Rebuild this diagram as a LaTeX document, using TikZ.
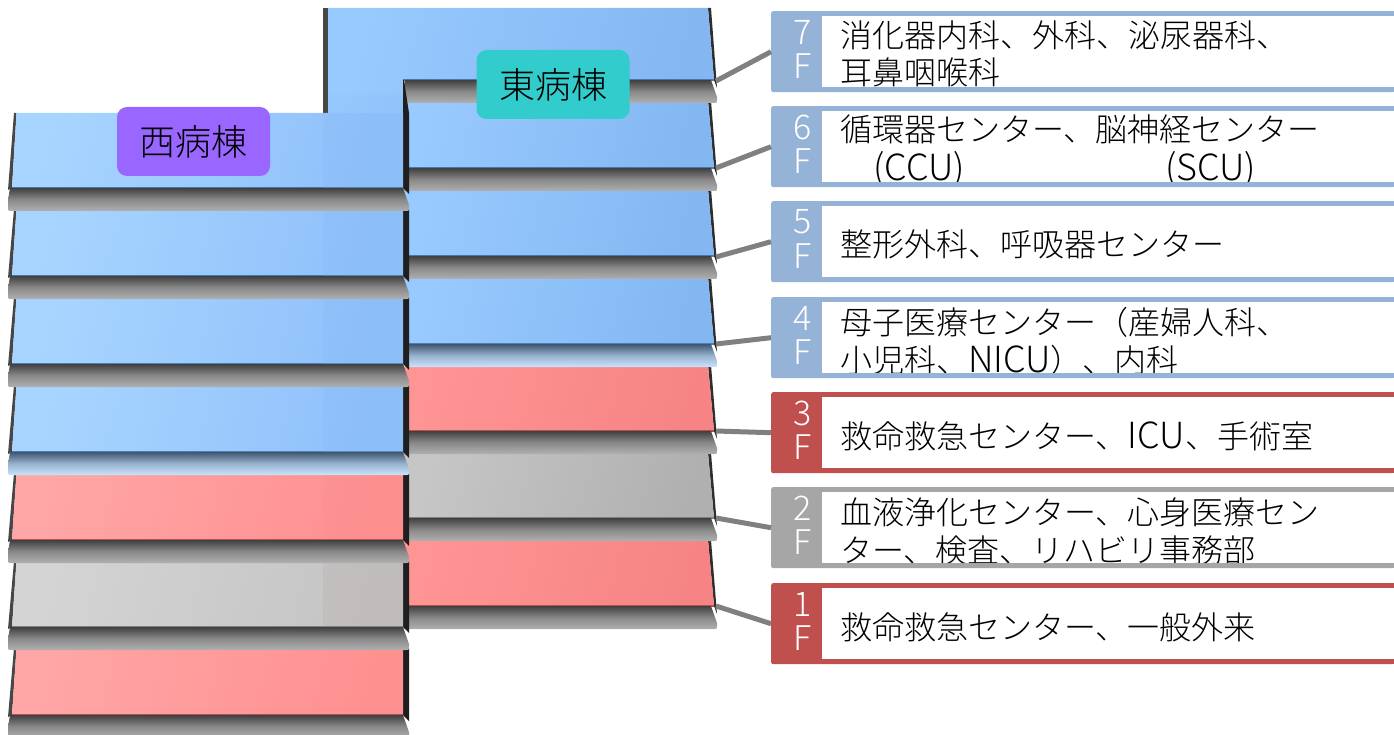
\documentclass[tikz,border=0pt]{standalone}
\usepackage{fontspec}
\setmainfont{Noto Sans CJK JP Light}
\definecolor{bluelA}{HTML}{A8D5FF}\definecolor{bluerA}{HTML}{8FC0FA}
\definecolor{bluelB}{HTML}{98CAFF}\definecolor{bluerB}{HTML}{84B6F2}
\definecolor{redlA}{HTML}{FFA6A6}\definecolor{redrA}{HTML}{FF9090}
\definecolor{redlB}{HTML}{FF9494}\definecolor{redrB}{HTML}{F68484}
\definecolor{graylA}{HTML}{D4D4D4}\definecolor{grayrA}{HTML}{C4C4C4}
\definecolor{graylB}{HTML}{C6C6C6}\definecolor{grayrB}{HTML}{B0B0B0}
\definecolor{bedge}{HTML}{4A7FB8}\definecolor{redge}{HTML}{B85050}\definecolor{gedge}{HTML}{808080}
\definecolor{slabtop}{HTML}{404040}\definecolor{slabbot}{HTML}{B0B0B0}
\definecolor{lslabtop}{HTML}{3F5670}\definecolor{lslabbot}{HTML}{C8E4FF}
\definecolor{lblue}{HTML}{95B3D7}\definecolor{lred}{HTML}{C0504D}\definecolor{lgray}{HTML}{A6A6A6}
\definecolor{chipw}{HTML}{9966FF}\definecolor{chipe}{HTML}{33CCCC}
\definecolor{leadc}{HTML}{808080}
\newcommand{\slabshape}[5]{% xl xr y topcolor botcolor
  \shade[top color=#4,bottom color=#5,middle color=#4!35!#5]
    (#1+2,#3) -- (#1,#3+12) -- (#1,#3+20) .. controls (#1,#3+23) .. (#1+3,#3+23) -- (#2-3,#3+23) .. controls (#2,#3+23) .. (#2,#3+20) -- (#2,#3+17) -- (#2-6,#3) -- cycle;}
\newcommand{\wfloor}[8]{% top bot lc rc edge slabtop slabbot righttop
  \fill[black!72] (14,#1) -- (8,#2+2) -- (12,#2) -- (16.5,#1) -- cycle;
  \fill[black!88] (403,#8) -- (403,#2) -- (409,#2+6) -- (409,#1) -- (404,#8) -- cycle;
  \shade[left color=#3,right color=#4,shading angle=75] (16.5,#1) -- (12,#2) -- (403,#2) -- (403,#1) -- cycle;
  \draw[#5,line width=1.2pt] (12,#2) -- (403,#2);
  \slabshape{8}{409}{#2}{#6}{#7}}
\newcommand{\efloor}[7]{% top bot lc rc edge slabtop slabbot
  \fill[black!82] (708,#1) -- (714,#2) -- (717,#2+8) -- (711,#1) -- cycle;
  \shade[left color=#3,right color=#4,shading angle=75] (400,#1) -- (400,#2) -- (714,#2) -- (708,#1) -- cycle;
  \draw[#5,line width=1.2pt] (400,#2) -- (714,#2);
  \slabshape{403}{717}{#2}{#6}{#7}}
\newcommand{\tagbox}[5]{% name top colour digit text
  \node[tagbase,fill=#3,minimum height=81pt] (#1) at (771,#2) [anchor=north west] {};
  \fill[white] (822,#2+5) rectangle (1394,#2+76);
  \node[digitlabel] at (803,#2+21) {#4};
  \node[digitlabel] at (803,#2+55) {F};
  #5
  \fill[#3] (822,#2) rectangle (1394,#2+5);
  \fill[#3] (822,#2+76) rectangle (1394,#2+81);}
\newcommand{\lat}[1]{{\fontsize{36}{36}\selectfont #1}}
\tikzset{
  x=1pt,y=-1pt,
  tagbase/.style={inner sep=0pt,minimum width=623pt,rounded corners=2pt},
  digitlabel/.style={text=white,font=\fontsize{34}{36}\selectfont,inner sep=0pt},
  rowtext/.style={anchor=base west,inner sep=0pt,font=\fontsize{32}{36}\selectfont,text=black},
  chip/.style={rounded corners=10pt,minimum width=153pt,minimum height=69pt,inner sep=0pt,font=\fontsize{36}{38}\selectfont,text=black},
  lead/.style={draw=leadc,line width=5pt},
}
\begin{document}
\begin{tikzpicture}
\useasboundingbox (0,0) rectangle (1394,735);
\clip (0,0) rectangle (1394,735);
% east wing, bottom to top
\efloor{540}{606}{redlB}{redrB}{redge}{slabtop}{slabbot}
\efloor{453}{518}{graylB}{grayrB}{gedge}{slabtop}{slabbot}
\efloor{365}{431}{redlB}{redrB}{redge}{slabtop}{slabbot}
\efloor{277}{344}{bluelB}{bluerB}{bedge}{lslabtop}{lslabbot}
\efloor{189}{256}{bluelB}{bluerB}{bedge}{slabtop}{slabbot}
\efloor{101}{168}{bluelB}{bluerB}{bedge}{slabtop}{slabbot}
\fill[black!72] (322.5,8) -- (322.5,113) -- (329,113) -- (329,8) -- cycle;
\fill[black!82] (708,8) -- (714,80) -- (717,88) -- (711,8) -- cycle;
\shade[left color=bluelB,right color=bluerB,shading angle=75] (328,8) -- (328,113) -- (403,113) -- (403,80) -- (714,80) -- (708,8) -- cycle;
\draw[bedge,line width=1.2pt] (403,80) -- (714,80);
\slabshape{403}{717}{80}{slabtop}{slabbot}
% west wing, bottom to top
\wfloor{648}{715}{redlA}{redrA}{redge}{slabtop}{slabbot}{648}
\wfloor{561}{627}{graylA}{grayrA}{gedge}{slabtop}{slabbot}{561}
\fill[redrA!40!gray,opacity=.12] (323,563) rectangle (403,627);
\wfloor{473}{540}{redlA}{redrA}{redge}{slabtop}{slabbot}{473}
\fill[redrB!80!gray,opacity=.08] (323,475) rectangle (403,540);
\wfloor{385}{452}{bluelA}{bluerA}{bedge}{lslabtop}{lslabbot}{385}
\fill[bluerB,opacity=.2] (323,387) rectangle (403,452);
\wfloor{297}{364}{bluelA}{bluerA}{bedge}{slabtop}{slabbot}{297}
\fill[bluerB,opacity=.2] (323,299) rectangle (403,364);
\wfloor{209}{276}{bluelA}{bluerA}{bedge}{slabtop}{slabbot}{209}
\fill[bluerB,opacity=.2] (323,211) rectangle (403,276);
\wfloor{113}{188}{bluelA}{bluerA}{bedge}{slabtop}{slabbot}{80}
\fill[bluerB,opacity=.2] (323,113) rectangle (403,188);
\fill[bluerB,opacity=.15] (328,95) rectangle (403,113);
% free ends of the leaders
\coordinate (e7) at (716,81);
\coordinate (e6) at (716,168);
\coordinate (e5) at (716,257);
\coordinate (e4) at (716,344);
\coordinate (e3) at (716,431);
\coordinate (e2) at (716,518);
\coordinate (e1) at (716,606);
% floor tags
\tagbox{b7}{11}{lblue}{7}{\node[rowtext] at (840,48) {消化器内科、外科、泌尿器科、};\node[rowtext] at (840,85) {耳鼻咽喉科};}
\tagbox{b6}{106}{lblue}{6}{\node[rowtext] at (840,142) {循環器センター、脳神経センター};\node[rowtext] at (873,181) {\lat{(CCU)}};\node[rowtext] at (1165,181) {\lat{(SCU)}};}
\tagbox{b5}{201}{lblue}{5}{\node[rowtext] at (840,257) {整形外科、呼吸器センター};}
\tagbox{b4}{297}{lblue}{4}{\node[rowtext] at (840,334) {母子医療センター（産婦人科、};\node[rowtext] at (840,372) {小児科、\lat{NICU}）、内科};}
\tagbox{b3}{392}{lred}{3}{\node[rowtext] at (840,448) {救命救急センター、\lat{ICU}、手術室};}
\tagbox{b2}{487}{lgray}{2}{\node[rowtext] at (840,524) {血液浄化センター、心身医療セン};\node[rowtext] at (840,562) {ター、検査、リハビリ事務部};}
\tagbox{b1}{583}{lred}{1}{\node[rowtext] at (840,639) {救命救急センター、一般外来};}
\foreach \n in {1,...,7} \draw[lead] (e\n) -- (b\n.west);
% wing labels
\node[chip,fill=chipw] (west) at (193.5,141.5) {西病棟};
\node[chip,fill=chipe] (east) at (553,84.5) {東病棟};
\end{tikzpicture}
\end{document}
